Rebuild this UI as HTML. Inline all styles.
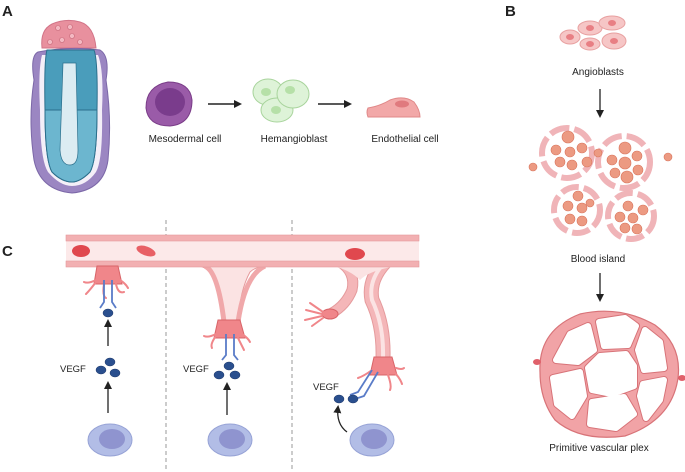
<!DOCTYPE html>
<html><head><meta charset="utf-8"><style>
html,body{margin:0;padding:0;background:#fff}
svg{display:block}
text{font-family:"Liberation Sans",sans-serif;fill:#222}
</style></head><body>
<svg width="685" height="472" viewBox="0 0 685 472" xmlns="http://www.w3.org/2000/svg">
<defs>
<marker id="ah" markerWidth="8" markerHeight="8" refX="6" refY="4" orient="auto" markerUnits="userSpaceOnUse"><path d="M0,0 L8,4 L0,8 z" fill="#222"/></marker>
</defs>
<!-- A -->
<text x="2" y="16" font-size="15" font-weight="bold">A</text>
<path d="M42,48 Q40,30 52,24 Q66,18 80,22 Q94,26 96,48 Z" fill="#e8909e" stroke="#d27488"/>
<g fill="#f3b8c2" stroke="#c86a7a" stroke-width="0.6"><circle cx="58" cy="28" r="2.5"/><circle cx="70" cy="27" r="2.5"/><circle cx="62" cy="40" r="2.5"/><circle cx="72" cy="36" r="2.5"/><circle cx="80" cy="42" r="2.5"/><circle cx="50" cy="42" r="2.5"/></g>
<path d="M38,52 Q30,56 34,80 Q28,120 34,160 Q40,190 72,193 Q104,190 108,160 Q112,120 106,80 Q110,56 100,50 Q70,46 38,52 Z" fill="#9b86c2" stroke="#7c68a8"/>
<path d="M42,55 Q38,70 40,110 Q40,160 48,172 Q60,186 72,186 Q86,186 96,172 Q103,160 102,110 Q104,70 98,55 Z" fill="#f4eff8"/>
<path d="M47,50 L94,50 Q98,60 97,110 Q97,160 90,172 Q80,182 72,182 Q62,182 52,172 Q45,160 45,110 Q44,60 47,50 Z" fill="#4a9dbb" stroke="#2b6f8c"/>
<path d="M47,110 L97,110 Q97,160 90,172 Q80,182 72,182 Q62,182 52,172 Q45,160 45,110Z" fill="#6cb6cf" stroke="#2b6f8c"/>
<path d="M63,63 L76,63 L78,150 Q78,165 70,165 Q61,165 60,150 Z" fill="#dcecf2" stroke="#2b6f8c" stroke-width="0.7"/>
<!-- mesodermal -->
<path d="M146,108 Q146,86 168,82 Q190,82 192,100 Q192,124 170,126 Q148,126 146,108Z" fill="#9a5ba8" stroke="#7a3c88"/>
<ellipse cx="170" cy="102" rx="15" ry="14" fill="#7a3c8c"/>
<text x="185" y="142" font-size="10" text-anchor="middle">Mesodermal cell</text>
<line x1="208" y1="104" x2="240" y2="104" stroke="#222" stroke-width="1.5" marker-end="url(#ah)"/>
<g fill="#def3d8" stroke="#a8d49c"><ellipse cx="268" cy="92" rx="15" ry="13"/><ellipse cx="277" cy="110" rx="16" ry="12"/><ellipse cx="293" cy="94" rx="16" ry="14"/></g>
<g fill="#b6e0a8"><ellipse cx="266" cy="92" rx="5" ry="4"/><ellipse cx="276" cy="110" rx="5" ry="4"/><ellipse cx="290" cy="90" rx="5" ry="4"/></g>
<text x="294" y="142" font-size="10" text-anchor="middle">Hemangioblast</text>
<line x1="318" y1="104" x2="350" y2="104" stroke="#222" stroke-width="1.5" marker-end="url(#ah)"/>
<path d="M368,108 Q380,106 390,100 Q404,95 414,102 Q420,110 420,117 L368,117 Q366,112 368,108Z" fill="#f2a8a8" stroke="#e08888"/>
<ellipse cx="402" cy="104" rx="7" ry="3.5" fill="#e07a7e"/>
<text x="405" y="142" font-size="10" text-anchor="middle">Endothelial cell</text>
<!-- B -->
<text x="505" y="16" font-size="15" font-weight="bold">B</text>
<g fill="#f6c6c6" stroke="#e8a0a0"><ellipse cx="570" cy="37" rx="10" ry="7"/><ellipse cx="590" cy="28" rx="12" ry="7"/><ellipse cx="612" cy="23" rx="13" ry="7"/><ellipse cx="590" cy="44" rx="10" ry="6"/><ellipse cx="614" cy="41" rx="12" ry="8"/></g>
<g fill="#e87f84"><ellipse cx="570" cy="37" rx="4" ry="3"/><ellipse cx="590" cy="28" rx="4" ry="3"/><ellipse cx="612" cy="23" rx="4" ry="3"/><ellipse cx="590" cy="44" rx="4" ry="3"/><ellipse cx="614" cy="41" rx="4" ry="3"/></g>
<text x="598" y="75" font-size="10" text-anchor="middle">Angioblasts</text>
<line x1="600" y1="89" x2="600" y2="116" stroke="#222" stroke-width="1.3" marker-end="url(#ah)"/>
<g fill="none" stroke="#f0b4b8" stroke-width="6">
<circle cx="567" cy="153" r="25" stroke-dasharray="20 5"/><circle cx="624" cy="162" r="26" stroke-dasharray="20 5"/>
<circle cx="577" cy="210" r="23" stroke-dasharray="18 5"/><circle cx="631" cy="216" r="23" stroke-dasharray="18 5"/></g>
<g fill="#ec9a82" stroke="#d8745c" stroke-width="0.6">
<circle cx="556" cy="150" r="5"/><circle cx="568" cy="137" r="6"/><circle cx="570" cy="152" r="5"/><circle cx="560" cy="162" r="5"/><circle cx="572" cy="165" r="5"/><circle cx="582" cy="148" r="5"/><circle cx="587" cy="162" r="5"/>
<circle cx="625" cy="148" r="6"/><circle cx="612" cy="160" r="5"/><circle cx="625" cy="163" r="6"/><circle cx="637" cy="156" r="5"/><circle cx="615" cy="173" r="5"/><circle cx="627" cy="177" r="6"/><circle cx="638" cy="170" r="5"/>
<circle cx="578" cy="196" r="5"/><circle cx="568" cy="206" r="5"/><circle cx="582" cy="208" r="5"/><circle cx="570" cy="219" r="5"/><circle cx="582" cy="221" r="5"/><circle cx="590" cy="203" r="4"/>
<circle cx="628" cy="206" r="5"/><circle cx="620" cy="217" r="5"/><circle cx="633" cy="218" r="5"/><circle cx="643" cy="210" r="5"/><circle cx="625" cy="228" r="5"/><circle cx="637" cy="229" r="5"/>
<circle cx="533" cy="167" r="4"/><circle cx="598" cy="153" r="4"/><circle cx="668" cy="157" r="4"/></g>
<text x="598" y="262" font-size="10" text-anchor="middle">Blood island</text>
<line x1="600" y1="273" x2="600" y2="300" stroke="#222" stroke-width="1.3" marker-end="url(#ah)"/>
<path d="M540,372 Q538,330 580,314 Q620,305 655,325 Q682,345 678,378 Q672,420 625,436 Q580,442 555,420 Q540,400 540,372Z" fill="#f1a3a6" stroke="#d87378" stroke-width="1.2"/>
<g stroke-linejoin="round">
<g fill="#d87378" stroke="#d87378" stroke-width="8">
<polygon points="556,360 570,334 588,326 594,350 578,362"/>
<polygon points="599,322 625,318 636,326 628,345 604,346"/>
<polygon points="645,330 660,342 664,368 644,370 638,350"/>
<polygon points="588,368 600,356 626,354 634,366 634,386 612,394 592,390"/>
<polygon points="553,378 580,372 584,396 572,416 557,404"/>
<polygon points="592,402 624,397 634,414 616,428 590,424"/>
<polygon points="643,384 664,380 660,400 646,418 640,396"/></g>
<g fill="#fff" stroke="#fff" stroke-width="6">
<polygon points="556,360 570,334 588,326 594,350 578,362"/>
<polygon points="599,322 625,318 636,326 628,345 604,346"/>
<polygon points="645,330 660,342 664,368 644,370 638,350"/>
<polygon points="588,368 600,356 626,354 634,366 634,386 612,394 592,390"/>
<polygon points="553,378 580,372 584,396 572,416 557,404"/>
<polygon points="592,402 624,397 634,414 616,428 590,424"/>
<polygon points="643,384 664,380 660,400 646,418 640,396"/></g></g>
<ellipse cx="537" cy="362" rx="4" ry="3" fill="#e0606a"/><ellipse cx="682" cy="378" rx="4" ry="3" fill="#e0606a"/>
<text x="599" y="451" font-size="10" text-anchor="middle">Primitive vascular plex</text>
<!-- C -->
<text x="2" y="256" font-size="15" font-weight="bold">C</text>
<line x1="166" y1="220" x2="166" y2="472" stroke="#999" stroke-dasharray="4 3"/>
<line x1="292" y1="220" x2="292" y2="472" stroke="#999" stroke-dasharray="4 3"/>
<!-- sprout 2 -->
<path d="M200,266 Q215,270 220,300 L224,322 L238,322 Q240,290 250,272 Q256,266 270,266 Z" fill="#fbe3e3" stroke="#e59a9c"/>
<path d="M205,266 Q218,272 224,322 M265,266 Q245,275 238,322" fill="none" stroke="#f0a8aa" stroke-width="5"/>
<!-- sprout 3 -->
<g fill="none" stroke-linecap="round">
<path d="M340,262 Q356,272 352,290 Q346,305 332,313" stroke="#e59a9c" stroke-width="11"/>
<path d="M340,262 Q356,272 352,290 Q346,305 332,313" stroke="#f4b6b8" stroke-width="9"/>
<path d="M385,262 Q368,280 372,300 Q384,325 383,358" stroke="#e59a9c" stroke-width="15"/>
<path d="M385,262 Q368,280 372,300 Q384,325 383,358" stroke="#f4b6b8" stroke-width="13"/>
<path d="M385,262 Q368,280 372,300 Q384,325 383,358" stroke="#fbe3e3" stroke-width="4"/>
</g>
<path d="M333,266 Q350,270 360,280 Q370,270 398,266 Z" fill="#fbe3e3"/>
<!-- vessel -->
<rect x="66" y="235" width="353" height="32" fill="#fce9e9"/>
<rect x="66" y="235" width="353" height="6" fill="#f2b0b2" stroke="#e59a9c" stroke-width="0.6"/>
<rect x="66" y="261" width="353" height="6" fill="#f2b0b2" stroke="#e59a9c" stroke-width="0.6"/>
<ellipse cx="81" cy="251" rx="9" ry="6" fill="#e0484e"/><ellipse cx="146" cy="251" rx="10" ry="4.5" fill="#e86065" transform="rotate(20 146 251)"/><ellipse cx="355" cy="254" rx="10" ry="6" fill="#e0484e"/>
<!-- tip cells -->
<g fill="#f0868a" stroke="#d86468">
<path d="M97,266 L118,266 L122,284 L94,284 Z"/>
<path d="M218,320 L240,320 L245,338 L214,338 Z"/>
<path d="M374,357 L392,357 L397,375 L370,375 Z"/>
<ellipse cx="330" cy="314" rx="8" ry="5"/></g>
<g fill="none" stroke="#f0868a" stroke-width="2" stroke-linecap="round">
<path d="M96,280 Q88,284 84,282 M96,282 Q90,290 86,294 M120,280 Q126,284 128,288 M104,284 Q102,296 106,298 M116,284 Q118,294 124,292"/>
<path d="M216,334 Q208,338 204,336 M216,336 Q210,344 212,348 M242,334 Q248,338 250,342 M238,338 Q242,346 244,350"/>
<path d="M372,370 Q364,376 358,378 M394,372 Q400,378 402,384 M388,375 Q392,386 390,390 M396,368 Q402,370 404,368"/>
<path d="M322,314 L306,310 M322,316 L305,320 M323,312 L310,303 M323,318 L312,326"/></g>
<!-- receptors -->
<g fill="none" stroke="#5a7cc8" stroke-width="1.8">
<path d="M104,280 L104,302 L100,308 M112,280 L112,302 L116,308"/>
<path d="M226,334 L226,355 L222,360 M234,334 L234,355 L238,360"/>
<path d="M372,370 L358,392 L350,395 M378,372 L364,396 L358,398"/></g>
<!-- VEGF -->
<g fill="#2a4f8e" stroke="#1a3466" stroke-width="0.5">
<ellipse cx="108" cy="313" rx="5" ry="4"/>
<ellipse cx="110" cy="362" rx="5" ry="4"/><ellipse cx="101" cy="370" rx="5" ry="4"/><ellipse cx="115" cy="373" rx="5" ry="4"/>
<ellipse cx="229" cy="366" rx="5" ry="4"/><ellipse cx="219" cy="375" rx="5" ry="4"/><ellipse cx="235" cy="375" rx="5" ry="4"/>
<ellipse cx="339" cy="399" rx="5" ry="4"/><ellipse cx="353" cy="399" rx="5" ry="4"/></g>
<text x="60" y="372" font-size="9.5">VEGF</text>
<text x="183" y="372" font-size="9.5">VEGF</text>
<text x="313" y="390" font-size="9.5">VEGF</text>
<g stroke="#222" stroke-width="1.3" fill="none">
<line x1="108" y1="346" x2="108" y2="321" marker-end="url(#ah)"/>
<line x1="108" y1="413" x2="108" y2="383" marker-end="url(#ah)"/>
<line x1="227" y1="415" x2="227" y2="384" marker-end="url(#ah)"/>
<path d="M347,432 Q336,424 338,407" marker-end="url(#ah)"/></g>
<!-- cells -->
<g fill="#b2bde6" stroke="#97a3d6"><ellipse cx="110" cy="440" rx="22" ry="16"/><ellipse cx="230" cy="440" rx="22" ry="16"/><ellipse cx="372" cy="440" rx="22" ry="16"/></g>
<g fill="#8f94cf"><ellipse cx="112" cy="439" rx="13" ry="10"/><ellipse cx="232" cy="439" rx="13" ry="10"/><ellipse cx="374" cy="439" rx="13" ry="10"/></g>
</svg>
</body></html>
